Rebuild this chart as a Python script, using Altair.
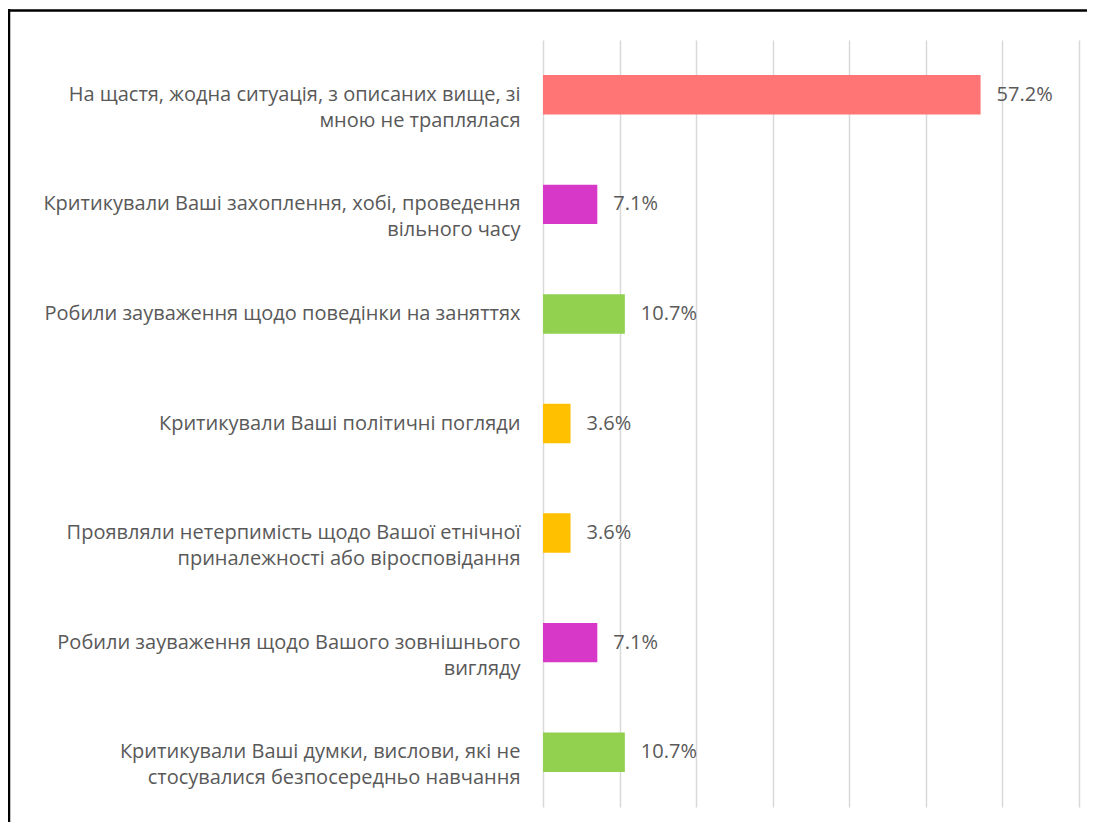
import altair as alt
import pandas as pd

labels = [
    "На щастя, жодна ситуація, з описаних вище, зі|мною не траплялася",
    "Критикували Ваші захоплення, хобі, проведення|вільного часу",
    "Робили зауваження щодо поведінки на заняттях",
    "Критикували Ваші політичні погляди",
    "Проявляли нетерпимість щодо Вашої етнічної|приналежності або віросповідання",
    "Робили зауваження щодо Вашого зовнішнього|вигляду",
    "Критикували Ваші думки, вислови, які не|стосувалися безпосередньо навчання",
]
values = [57.2, 7.1, 10.7, 3.6, 3.6, 7.1, 10.7]
colors = ["#FF7575", "#D838C8", "#92D050", "#FFC000", "#FFC000", "#D838C8", "#92D050"]

df = pd.DataFrame({"label": labels, "value": values, "color": colors})
df["text"] = df["value"].map(lambda v: f"{v:.1f}%")

FONT = "Open Sans"
FS = 20
TXT = "#595959"

y_enc = alt.Y(
    "label:N",
    sort=labels,
    scale=alt.Scale(paddingInner=0.64, paddingOuter=0.32),
    axis=alt.Axis(
        title=None, ticks=False, domain=False, labelPadding=23,
        labelExpr="split(datum.label, '|')", labelLineHeight=26,
        labelFont=FONT, labelFontSize=FS, labelColor=TXT, labelLimit=0,
        labelAlign="right",
    ),
)
x_enc = alt.X(
    "value:Q",
    scale=alt.Scale(domain=[0, 70], nice=False),
    axis=alt.Axis(
        title=None, labels=False, ticks=False, domain=False,
        values=[0, 10, 20, 30, 40, 50, 60, 70],
        grid=True, gridColor="#D9D9D9", gridWidth=1.5,
    ),
)

bars = alt.Chart(df).mark_bar().encode(
    y=y_enc, x=x_enc, color=alt.Color("color:N", scale=None)
)
texts = alt.Chart(df).mark_text(
    align="left", baseline="middle", dx=16, font=FONT, fontSize=FS, color=TXT
).encode(y=alt.Y("label:N", sort=labels), x="value:Q", text="text:N")

one = pd.DataFrame({"a": [0]})
left_border = alt.Chart(one).mark_rule(color="black", strokeWidth=2.5).encode(
    x=alt.value(-534), y=alt.value(-31), y2=alt.value(800)
)
top_border = alt.Chart(one).mark_rule(color="black", strokeWidth=2.5).encode(
    x=alt.value(-535), x2=alt.value(545), y=alt.value(-29.5)
)

chart = alt.layer(bars, texts, left_border, top_border).properties(
    width=535.5, height=767,
    autosize=alt.AutoSizeParams(type="none"),
    padding={"left": 535, "top": 32, "right": 8.5, "bottom": 15},
    background="white",
).configure_view(stroke=None)

chart.save("out.html", embed_options={"renderer": "svg", "actions": False})
